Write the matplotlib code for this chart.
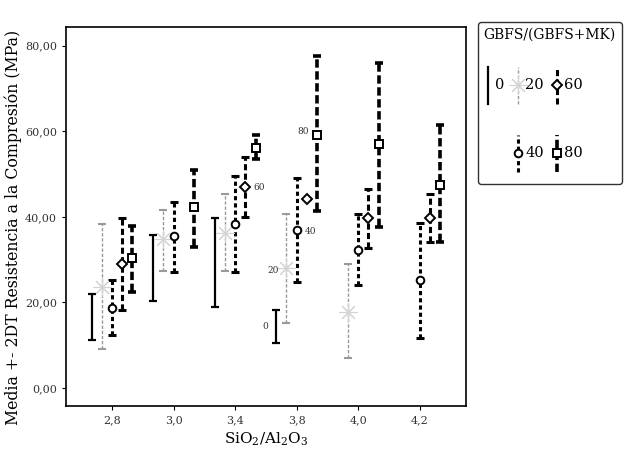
import numpy as np
import matplotlib

matplotlib.use("Agg")

import matplotlib.pyplot as plt
from matplotlib.lines import Line2D
from matplotlib.legend_handler import HandlerBase

plt.rcParams["font.family"] = ["DejaVu Serif"]
plt.rcParams["mathtext.fontset"] = "dejavuserif"
plt.rcParams["lines.scale_dashes"] = False

# SiO2/Al2O3 ratio categories
ratios = ["2,8", "3,0", "3,4", "3,8", "4,0", "4,2"]
series = ["0", "20", "40", "60", "80"]
nan = np.nan

# GBFS/(GBFS+MK) = 0
mean_0 = [16.6, 28.1, 29.3, 14.4, nan, nan]
low_0 = [11.2, 20.4, 19.0, 10.5, nan, nan]
high_0 = [22.0, 35.8, 39.7, 18.3, nan, nan]

# GBFS/(GBFS+MK) = 20
mean_20 = [23.7, 34.7, 36.3, 28.0, 17.8, nan]
low_20 = [9.1, 27.3, 27.4, 15.2, 7.0, nan]
high_20 = [38.4, 41.5, 45.4, 40.7, 29.0, nan]

# GBFS/(GBFS+MK) = 40
mean_40 = [18.7, 35.4, 38.4, 37.0, 32.3, 25.3]
low_40 = [12.4, 27.0, 27.2, 24.8, 24.1, 11.7]
high_40 = [25.3, 43.5, 49.6, 49.0, 40.7, 38.6]

# GBFS/(GBFS+MK) = 60
mean_60 = [29.0, nan, 46.9, 44.2, 39.6, 39.8]
low_60 = [18.3, nan, 40.0, 44.2, 32.8, 34.0]
high_60 = [39.8, nan, 54.0, 44.2, 46.6, 45.4]

# GBFS/(GBFS+MK) = 80
mean_80 = [30.4, 42.2, 56.1, 59.2, 56.9, 47.5]
low_80 = [22.5, 33.0, 53.4, 41.3, 37.7, 34.0]
high_80 = [37.9, 51.0, 59.2, 77.5, 75.9, 61.4]

means = [mean_0, mean_20, mean_40, mean_60, mean_80]
lows = [low_0, low_20, low_40, low_60, low_80]
highs = [high_0, high_20, high_40, high_60, high_80]

styles = [
    dict(color="black", lw=1.6, dashes=None, marker="None", ms=0, mfc="white", mec="black", mew=1.3),
    dict(color="#999999", lw=1.0, dashes=(2.4, 1.3), marker=(8, 2, 0), ms=13, mfc="#d4d4d4", mec="#d4d4d4", mew=0.8),
    dict(color="black", lw=2.2, dashes=(3.0, 2.2), marker="o", ms=5.5, mfc="white", mec="black", mew=1.4),
    dict(color="black", lw=2.2, dashes=(4.4, 2.4), marker="D", ms=5.5, mfc="white", mec="black", mew=1.4),
    dict(color="black", lw=2.6, dashes=(6.0, 2.6), marker="s", ms=5.5, mfc="white", mec="black", mew=1.4),
]
offsets = [-2, -1, 0, 1, 2]
step = 0.166

fig = plt.figure(figsize=(6.27, 4.55), dpi=100)
ax = fig.add_axes([0.105, 0.108, 0.638, 0.833])

x = np.arange(len(ratios))
handles = []
for s, mean, lo, hi, st, off in zip(series, means, lows, highs, styles, offsets):
    mean = np.array(mean)
    yerr = [mean - np.array(lo), np.array(hi) - mean]
    xs = x + off * step
    eb = ax.errorbar(xs, mean, yerr=yerr, fmt="none", ecolor=st["color"],
                     elinewidth=st["lw"], capsize=3, capthick=max(st["lw"], 1.5), zorder=2)
    if st["dashes"] is not None:
        eb[2][0].set_linestyle((0, st["dashes"]))
    if st["marker"] != "None":
        ax.plot(xs, mean, linestyle="None", marker=st["marker"], ms=st["ms"],
                mfc=st["mfc"], mec=st["mec"], mew=st["mew"], zorder=3)
    h = Line2D([], [], color=st["color"], lw=st["lw"],
               linestyle="-" if st["dashes"] is None else (0, st["dashes"]),
               marker=st["marker"], ms=st["ms"], mfc=st["mfc"], mec=st["mec"], mew=st["mew"])
    handles.append(h)

# small series labels next to the 3,4 / 3,8 groups
label_specs = [(0, 3, (-8, 0)), (1, 3, (-9.5, -2)), (2, 3, (10, -1.5)), (3, 2, (10, 0)), (4, 3, (-10, 2))]
for si, ci, (dx, dy) in label_specs:
    yv = means[si][ci]
    ax.annotate(series[si], xy=(ci + offsets[si] * step, yv), xytext=(dx, dy),
                textcoords="offset points", fontsize=6.5, color="#333333",
                ha="center", va="center")

ax.set_xlim(-0.75, 5.75)
ax.set_ylim(-4.2, 84.4)
ax.set_xticks(x)
ax.set_xticklabels(ratios)
ax.set_yticks([0, 20, 40, 60, 80])
ax.set_yticklabels(["0,00", "20,00", "40,00", "60,00", "80,00"])
ax.tick_params(labelsize=8, labelcolor="#333333", length=3)
ax.set_xlabel(r"SiO$_2$/Al$_2$O$_3$", fontsize=11)
ax.set_ylabel("Media +- 2DT Resistencia a la Compresión (MPa)", fontsize=11.3)
ax.yaxis.set_label_coords(-0.11, 0.47)
for sp in ax.spines.values():
    sp.set_linewidth(1.2)


class VBarHandler(HandlerBase):
    def create_artists(self, legend, orig_handle, xdescent, ydescent, width, height, fontsize, trans):
        cx = width / 2 - xdescent
        cy = height / 2 - ydescent
        half = 0.38 * height
        line = Line2D([cx, cx], [cy - half, cy + half])
        line.update_from(orig_handle)
        line.set_marker("None")
        line.set_transform(trans)
        mk = Line2D([cx], [cy])
        mk.update_from(orig_handle)
        mk.set_linestyle("None")
        mk.set_transform(trans)
        return [line, mk]


blank = Line2D([], [], linestyle="None", marker="None")
leg_handles = [handles[0], blank, handles[1], handles[2], handles[3], handles[4]]
leg_labels = ["0", "", "20", "40", "60", "80"]
leg = fig.legend(leg_handles, leg_labels, ncol=3, loc="upper left",
                 bbox_to_anchor=(0.762, 0.952), title="GBFS/(GBFS+MK)",
                 handler_map={Line2D: VBarHandler()}, fontsize=10.5, title_fontsize=10,
                 handleheight=4.8, handlelength=0.6, handletextpad=0.2,
                 labelspacing=1.3, columnspacing=0.6, borderpad=0.4,
                 alignment="left", frameon=True, fancybox=True, borderaxespad=0)
leg.get_frame().set_edgecolor("black")
leg.get_frame().set_linewidth(1.0)

fig.savefig("out.png", dpi=100)
